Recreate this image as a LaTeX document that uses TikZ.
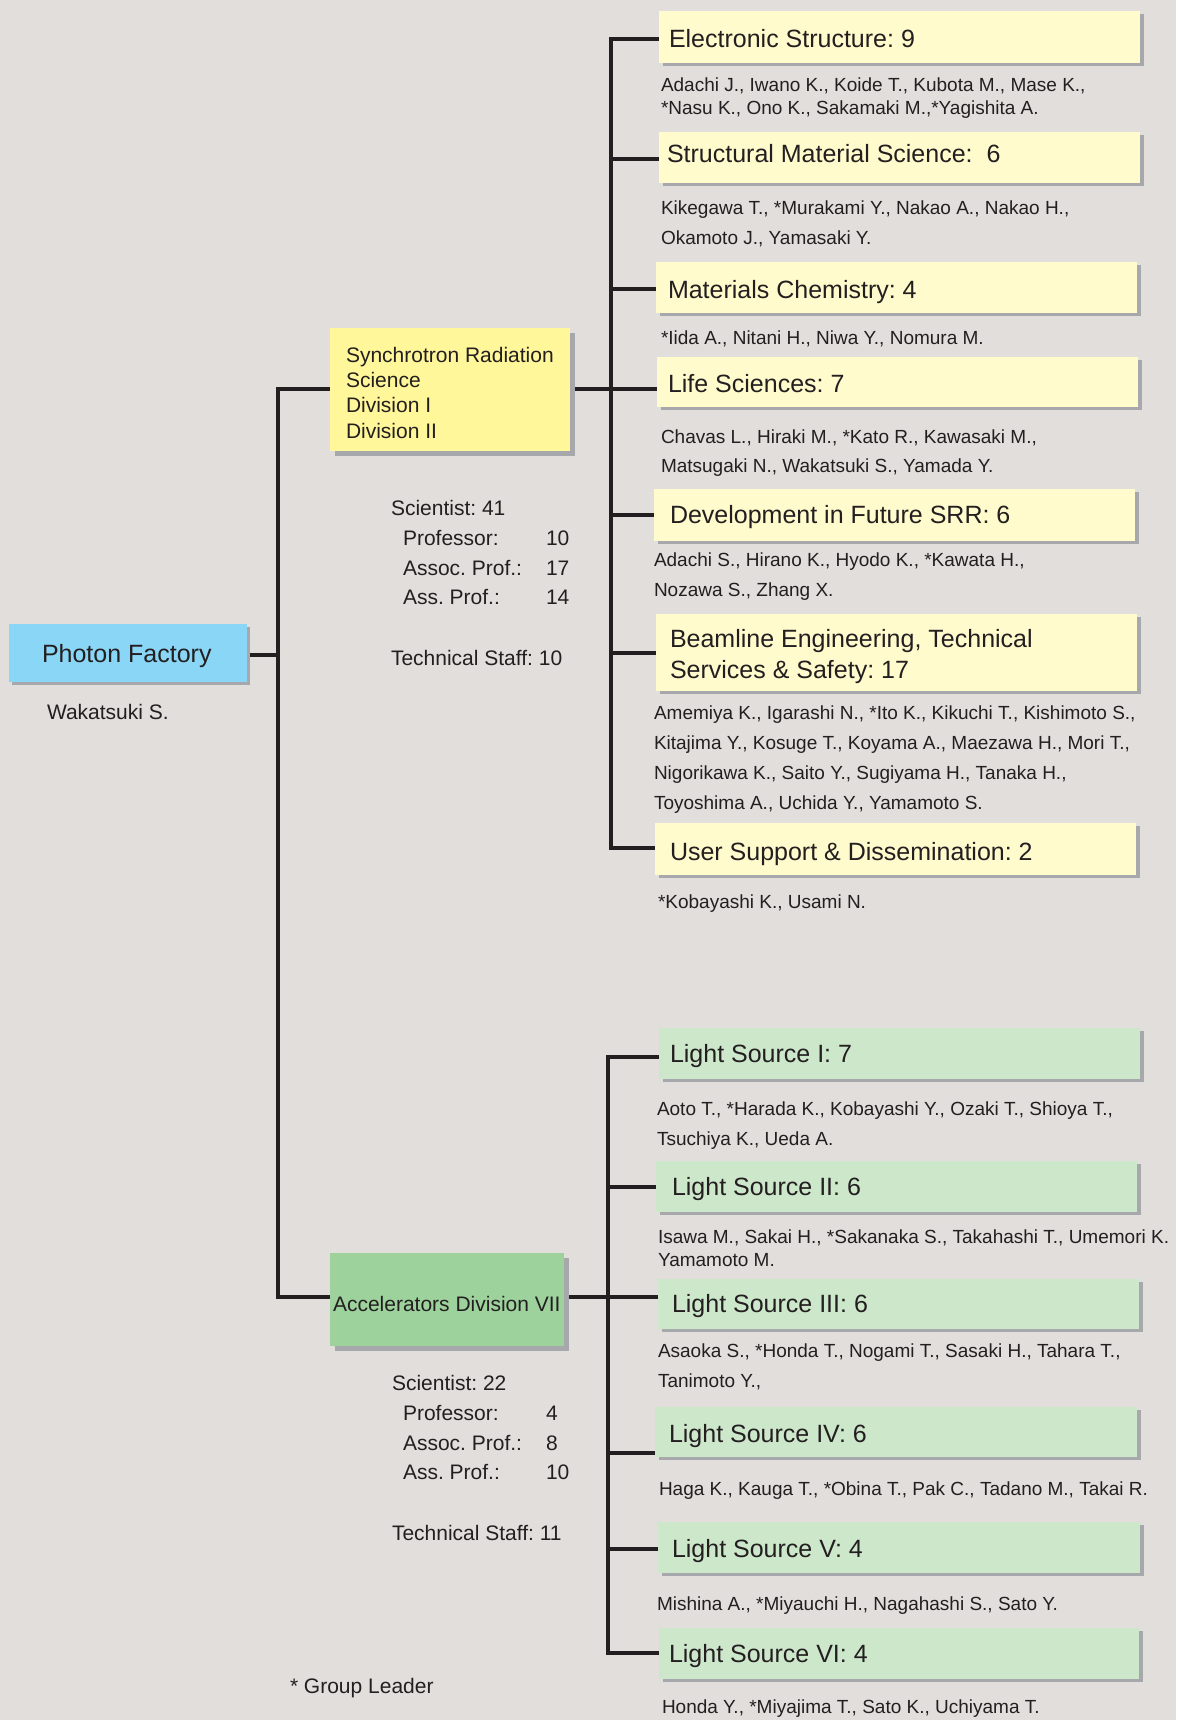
\documentclass[tikz,border=0pt]{standalone}
\usepackage{fontspec}
\setmainfont{Liberation Sans}
\usetikzlibrary{shadows}
\definecolor{bg}{RGB}{226,222,220}
\definecolor{ink}{RGB}{35,31,32}
\definecolor{ylight}{RGB}{255,251,204}
\definecolor{ydark}{RGB}{255,247,153}
\definecolor{pfblue}{RGB}{138,214,247}
\definecolor{gdark}{RGB}{157,210,156}
\definecolor{glight}{RGB}{205,231,203}
\definecolor{shade}{RGB}{167,168,172}
\pgfdeclarelayer{back}
\pgfdeclarelayer{lines}
\pgfsetlayers{back,lines,main}
\newcommand\mkbox[6]{\node[#2, minimum width={#5-#3}, minimum height={#6-#4}] (#1) at (#3,#4) {};}
\begin{document}
\frenchspacing
\begin{tikzpicture}[x=1pt,y=-1pt,
  boxbase/.style={anchor=north west, inner sep=0pt, outer sep=0pt, draw=none},
  hdrbox/.style={boxbase, general shadow={fill=shade, shadow xshift=4pt, shadow yshift=-3pt}},
  divbox/.style={boxbase, general shadow={fill=shade, shadow xshift=5pt, shadow yshift=-5pt}},
  ybox/.style={hdrbox, fill=ylight},
  gbox/.style={hdrbox, fill=glight},
  txt/.style={anchor=base west, inner sep=0pt, outer sep=0pt, text=ink},
  hd/.style={txt, font=\fontsize{25}{30}\selectfont\frenchspacing},
  nm/.style={txt, font=\fontsize{19}{23}\selectfont\frenchspacing},
  md/.style={txt, font=\fontsize{21}{25}\selectfont\frenchspacing},
  ln/.style={draw=ink, line width=4pt}]
\useasboundingbox (0,0) rectangle (1176,1720);
\begin{pgfonlayer}{back}
\fill[bg] (0,0) rectangle (1176,1720);
\end{pgfonlayer}

% ---------- main boxes ----------
\mkbox{pf}{boxbase, fill=pfblue, general shadow={fill=shade, shadow xshift=3pt, shadow yshift=-3pt}}{9}{624}{247}{682}
\mkbox{srs}{divbox, fill=ydark}{330}{328}{570}{451}
\mkbox{acc}{divbox, fill=gdark}{330}{1253}{564}{1346}

\node[hd] (pf-t) at (42,662) {Photon Factory};
\node[md] (pf-n) at (47,719) {Wakatsuki S.};

\node[md] (srs-t1) at (346,362) {Synchrotron Radiation};
\node[md] (srs-t2) at (346,387) {Science};
\node[md] (srs-t3) at (346,412) {Division I};
\node[md] (srs-t4) at (346,438) {Division II};

\node[md] (acc-t) at (333,1311) {Accelerators Division VII};

% staff numbers
\node[md] (s1a) at (391,515) {Scientist: 41};
\node[md] (s1b) at (403,545) {Professor:};
\node[md] (s1bn) at (546,545) {10};
\node[md] (s1c) at (403,575) {Assoc. Prof.:};
\node[md] (s1cn) at (546,575) {17};
\node[md] (s1d) at (403,604) {Ass. Prof.:};
\node[md] (s1dn) at (546,604) {14};
\node[md] (s1e) at (391,665) {Technical Staff: 10};

\node[md] (s2a) at (392,1390) {Scientist: 22};
\node[md] (s2b) at (403,1420) {Professor:};
\node[md] (s2bn) at (546,1420) {4};
\node[md] (s2c) at (403,1450) {Assoc. Prof.:};
\node[md] (s2cn) at (546,1450) {8};
\node[md] (s2d) at (403,1479) {Ass. Prof.:};
\node[md] (s2dn) at (546,1479) {10};
\node[md] (s2e) at (392,1540) {Technical Staff: 11};

\node[md] (gl) at (290,1693) {* Group Leader};

% ---------- upper groups ----------
\mkbox{es}{ybox}{659}{11}{1140}{63}
\node[hd] (es-t) at (669,48) {Electronic Structure: 9};
\node[nm] (es-n1) at (661,91.7) {Adachi J., Iwano K., Koide T., Kubota M., Mase K.,};
\node[nm] (es-n2) at (661,114.3) {*Nasu K., Ono K., Sakamaki M.,*Yagishita A.};

\mkbox{sms}{ybox}{659}{132}{1140}{183}
\node[hd] (sms-t) at (667,163) {Structural Material Science:\ \ 6};
\node[nm] (sms-n1) at (661,215) {Kikegawa T., *Murakami Y., Nakao A., Nakao H.,};
\node[nm] (sms-n2) at (661,245) {Okamoto J., Yamasaki Y.};

\mkbox{mc}{ybox}{656}{262}{1137}{313}
\node[hd] (mc-t) at (668,298) {Materials Chemistry: 4};
\node[nm] (mc-n1) at (661,344) {*Iida A., Nitani H., Niwa Y., Nomura M.};

\mkbox{lsc}{ybox}{657}{357}{1138}{407}
\node[hd] (lsc-t) at (668,392) {Life Sciences: 7};
\node[nm] (lsc-n1) at (661,443) {Chavas L., Hiraki M., *Kato R., Kawasaki M.,};
\node[nm] (lsc-n2) at (661,472) {Matsugaki N., Wakatsuki S., Yamada Y.};

\mkbox{dev}{ybox}{654}{489}{1135}{541}
\node[hd] (dev-t) at (670,523) {Development in Future SRR: 6};
\node[nm] (dev-n1) at (654,566) {Adachi S., Hirano K., Hyodo K., *Kawata H.,};
\node[nm] (dev-n2) at (654,596) {Nozawa S., Zhang X.};

\mkbox{beam}{ybox}{656}{614}{1137}{691}
\node[hd] (beam-t1) at (670,647) {Beamline Engineering, Technical};
\node[hd] (beam-t2) at (670,678) {Services \& Safety: 17};
\node[nm] (beam-n1) at (654,719) {Amemiya K., Igarashi N., *Ito K., Kikuchi T., Kishimoto S.,};
\node[nm] (beam-n2) at (654,749) {Kitajima Y., Kosuge T., Koyama A., Maezawa H., Mori T.,};
\node[nm] (beam-n3) at (654,779) {Nigorikawa K., Saito Y., Sugiyama H., Tanaka H.,};
\node[nm] (beam-n4) at (654,809) {Toyoshima A., Uchida Y., Yamamoto S.};

\mkbox{user}{ybox}{655}{823}{1136}{875}
\node[hd] (user-t) at (670,860) {User Support \& Dissemination: 2};
\node[nm] (user-n1) at (658,908) {*Kobayashi K., Usami N.};

% ---------- lower groups ----------
\mkbox{lsa}{gbox}{659}{1028}{1140}{1079}
\node[hd] (lsa-t) at (670,1062) {Light Source I: 7};
\node[nm] (lsa-n1) at (657,1115) {Aoto T., *Harada K., Kobayashi Y., Ozaki T., Shioya T.,};
\node[nm] (lsa-n2) at (657,1145) {Tsuchiya K., Ueda A.};

\mkbox{lsb}{gbox}{656}{1161}{1137}{1212}
\node[hd] (lsb-t) at (672,1195) {Light Source II: 6};
\node[nm] (lsb-n1) at (658,1243) {Isawa M., Sakai H., *Sakanaka S., Takahashi T., Umemori K.};
\node[nm] (lsb-n2) at (658,1266) {Yamamoto M.};

\mkbox{lsc3}{gbox}{658}{1279}{1139}{1329}
\node[hd] (lsc3-t) at (672,1312) {Light Source III: 6};
\node[nm] (lsc3-n1) at (658,1357) {Asaoka S., *Honda T., Nogami T., Sasaki H., Tahara T.,};
\node[nm] (lsc3-n2) at (658,1387) {Tanimoto Y.,};

\mkbox{lsd}{gbox}{655}{1407}{1137}{1457}
\node[hd] (lsd-t) at (669,1442) {Light Source IV: 6};
\node[nm] (lsd-n1) at (659,1495) {Haga K., Kauga T., *Obina T., Pak C., Tadano M., Takai R.};

\mkbox{lse}{gbox}{658}{1522}{1140}{1573}
\node[hd] (lse-t) at (672,1557) {Light Source V: 4};
\node[nm] (lse-n1) at (657,1610) {Mishina A., *Miyauchi H., Nagahashi S., Sato Y.};

\mkbox{lsf}{gbox}{659}{1628}{1139}{1679}
\node[hd] (lsf-t) at (669,1662) {Light Source VI: 4};
\node[nm] (lsf-n1) at (662,1713) {Honda Y., *Miyajima T., Sato K., Uchiyama T.};

% ---------- connectors ----------
\coordinate (LT) at (278,389);
\coordinate (LM) at (278,655);
\coordinate (LB) at (278,1297);
\coordinate (U1) at (611,39);
\coordinate (U2) at (611,159);
\coordinate (U3) at (611,289);
\coordinate (U4) at (611,389);
\coordinate (U5) at (611,515);
\coordinate (U6) at (611,653);
\coordinate (U7) at (611,848);
\coordinate (L1) at (608,1057);
\coordinate (L2) at (608,1187);
\coordinate (L3) at (608,1297);
\coordinate (L4) at (608,1453);
\coordinate (L5) at (608,1549);
\coordinate (L6) at (608,1653);
\begin{pgfonlayer}{lines}
\draw[ln] (srs.west |- LT) -- (LT) -- (LB) -- (acc.west |- LB);
\draw[ln] (pf.east |- LM) -- (LM);
\draw[ln] (es.west |- U1) -- (U1) -- (U7) -- (user.west |- U7);
\draw[ln] (U2) -- (sms.west |- U2);
\draw[ln] (U3) -- (mc.west |- U3);
\draw[ln] (srs.east |- U4) -- (lsc.west |- U4);
\draw[ln] (U5) -- (dev.west |- U5);
\draw[ln] (U6) -- (beam.west |- U6);
\draw[ln] (lsa.west |- L1) -- (L1) -- (L6) -- (lsf.west |- L6);
\draw[ln] (L2) -- (lsb.west |- L2);
\draw[ln] (acc.east |- L3) -- (lsc3.west |- L3);
\draw[ln] (L4) -- (lsd.west |- L4);
\draw[ln] (L5) -- (lse.west |- L5);
\end{pgfonlayer}
\end{tikzpicture}
\end{document}
